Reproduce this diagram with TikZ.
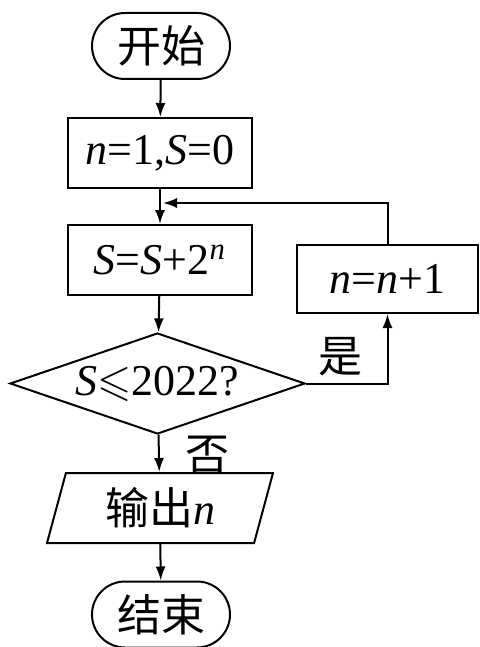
\documentclass[tikz,border=0pt]{standalone}
\usepackage{fontspec}
\usepackage{amssymb}
\setmainfont{Liberation Serif}
\newfontfamily\cjk{Noto Sans CJK SC}
\usetikzlibrary{shapes.geometric,shapes.misc,arrows.meta}
\begin{document}
\begin{tikzpicture}
[x=0.5pt,y=-0.5pt,
  every node/.style={font=\fontsize{22pt}{26pt}\selectfont},%
  termdecorate/.style={shape=rounded rectangle,draw,line width=1pt,minimum width=69pt,minimum height=33pt,inner sep=0pt},%
  boxdecorate/.style={shape=rectangle,draw,line width=1pt,minimum width=92pt,minimum height=35pt,inner sep=0pt},%
  testdecorate/.style={shape=diamond,draw,line width=1pt,aspect=2.9,minimum width=147.5pt,minimum height=50.5pt,inner sep=0pt},%
  outdecorate/.style={shape=trapezium,draw,line width=1pt,trapezium left angle=65,trapezium right angle=115,trapezium stretches body,minimum width=113pt,minimum height=35pt,inner sep=0pt},%
  linedecorate/.style={-{Latex[length=7pt,width=5pt]},line width=1pt}]
\useasboundingbox (0,0) rectangle (480,647);
%%% main column
% nodes
\node (start) at (161,46) [termdecorate] {\cjk 开始};
\node (init) at (160,153) [boxdecorate] {\textit{n}=1,\textit{S}=0};
\node (update) at (160,260) [boxdecorate] {\textit{S}=\textit{S}+2\textsuperscript{\textit{n}}};
\node (test) at (157.5,383.5) [testdecorate] {\textit{S}$\leqslant$2022?};
\node (out) at (160,508) [outdecorate] {\cjk 输出\textit{\rmfamily n}};
\node (end) at (161,614.5) [termdecorate] {\cjk 结束};
% edges
\path
(start) edge[linedecorate] node {} (init)
(init) edge[linedecorate] node {} (update)
(update) edge[linedecorate] node {} (test)
(test) edge[linedecorate] node {} (out)
(out) edge[linedecorate] node {} (end);
\node at (207,455) {\cjk 否};
%
%%% loop back
\node (loop) at (387.5,279) [boxdecorate,minimum width=90.5pt,minimum height=34pt] {\textit{n}=\textit{n}+1};
\coordinate (join) at (163,203);
\draw[linedecorate] (test.east) -| (loop.south);
\draw[linedecorate] (loop.north) |- (join);
\node at (340,357) {\cjk 是};
\end{tikzpicture}
\end{document}
